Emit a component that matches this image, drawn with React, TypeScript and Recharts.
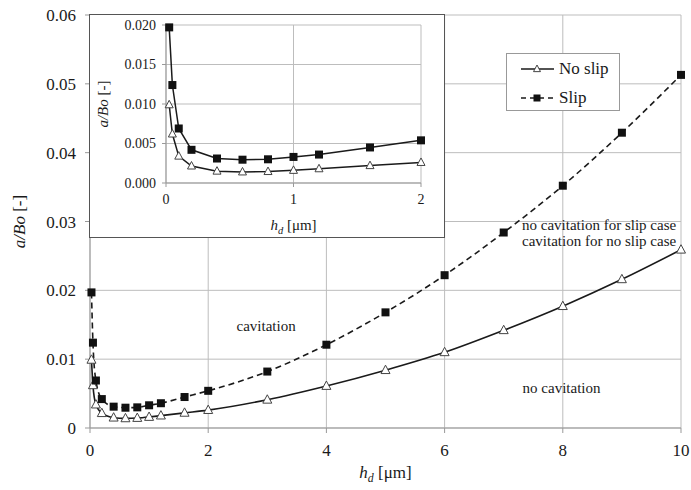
import { LineChart, Line, XAxis, YAxis, CartesianGrid, Legend, ReferenceDot } from "recharts";

// h_d [um] sample positions, and a/Bo values
const HD = [0.025, 0.05, 0.1, 0.2, 0.4, 0.6, 0.8, 1.0, 1.2, 1.6, 2, 3, 4, 5, 6, 7, 8, 9, 10];
const NO_SLIP = [0.0099, 0.0062, 0.0034, 0.00215, 0.0015, 0.0014, 0.00145, 0.0016, 0.0018, 0.0022, 0.0026, 0.0041, 0.0061, 0.0084, 0.011, 0.0142, 0.0177, 0.0216, 0.0259];
const SLIP = [0.0197, 0.0124, 0.0069, 0.0042, 0.0031, 0.00295, 0.003, 0.0033, 0.0036, 0.0045, 0.0054, 0.0082, 0.0121, 0.0168, 0.0222, 0.0284, 0.0352, 0.0429, 0.0513];

const X_TICKS = [0, 2, 4, 6, 8, 10];
const Y_TICKS = [0, 0.01, 0.02, 0.03, 0.04, 0.05, 0.06];
const INSET_X_TICKS = [0, 1, 2];
const INSET_Y_TICKS = [0, 0.005, 0.01, 0.015, 0.02];
const INSET_MAX_HD = 2;

const NOTES = [
  { text: "cavitation", x: 2.98, y: 0.0148, anchor: "middle" },
  { text: "no cavitation for slip case", x: 7.31, y: 0.0295, anchor: "start" },
  { text: "cavitation for no slip case", x: 7.31, y: 0.0271, anchor: "start" },
  { text: "no cavitation", x: 7.32, y: 0.0058, anchor: "start" },
];

const rows = HD.map((hd, i) => ({ hd, noSlip: NO_SLIP[i], slip: SLIP[i] }));
const insetRows = rows.filter((r) => r.hd <= INSET_MAX_HD);

const FONT = "'Times New Roman', Times, 'Liberation Serif', 'Nimbus Roman', FreeSerif, 'Noto Serif', 'DejaVu Serif', serif";
const INK = "#1a1a1a";
const GRID = "#bdbdbd";

function Triangle(props: any) {
  const { cx, cy, s = 4.5 } = props;
  if (cx == null || cy == null) return null;
  return (
    <path
      d={`M${cx},${cy - s - 0.5} L${cx + s},${cy + s * 0.75} L${cx - s},${cy + s * 0.75} Z`}
      fill="#fff"
      stroke="#444"
      strokeWidth={1}
    />
  );
}

function Square(props: any) {
  const { cx, cy, s = 4 } = props;
  if (cx == null || cy == null) return null;
  return <rect x={cx - s} y={cy - s} width={s * 2} height={s * 2} fill="#111" />;
}

function XTitle({ viewBox, dy, size }: any) {
  const x = viewBox.x + viewBox.width / 2;
  return (
    <text x={x} y={viewBox.y + dy} textAnchor="middle" style={{ fontFamily: FONT }} fontSize={size} fill={INK}>
      <tspan fontStyle="italic">h</tspan>
      <tspan fontStyle="italic" fontSize={size * 0.7} dy={4}>d</tspan>
      <tspan dy={-4}> [μm]</tspan>
    </text>
  );
}

function YTitle({ viewBox, dx, size }: any) {
  const x = viewBox.x + dx;
  const y = viewBox.y + viewBox.height / 2;
  return (
    <text x={x} y={y} transform={`rotate(-90 ${x} ${y})`} textAnchor="middle" style={{ fontFamily: FONT }} fontSize={size} fill={INK}>
      <tspan fontStyle="italic">a/Bo</tspan>
      <tspan> [-]</tspan>
    </text>
  );
}

function LegendBox() {
  const item = (dashed: boolean, label: string) => (
    <div style={{ display: "flex", alignItems: "center", height: 29 }}>
      <svg width={38} height={14} style={{ marginRight: 2 }}>
        <line x1={2} y1={7} x2={35} y2={7} stroke={INK} strokeWidth={1.3} strokeDasharray={dashed ? "5 4" : undefined} />
        {dashed ? <Square cx={18} cy={7} s={3.5} /> : <Triangle cx={18} cy={7} s={3.5} />}
      </svg>
      <span>{label}</span>
    </div>
  );
  return (
    <div
      style={{
        width: 114,
        height: 58,
        boxSizing: "border-box",
        border: "1px solid #999",
        background: "#fff",
        padding: "0 0 0 12px",
        fontFamily: FONT,
        fontSize: 17,
        color: INK,
        lineHeight: "17px",
      }}
    >
      {item(false, "No slip")}
      {item(true, "Slip")}
    </div>
  );
}

const tickStyle = { fontSize: 17, fill: INK, style: { fontFamily: FONT } };
const insetTick = { fontSize: 14, fill: INK, style: { fontFamily: FONT } };

export default function App() {
  return (
    <div style={{ position: "absolute", left: 0, top: 0, width: 691, height: 490, background: "#fff", fontFamily: FONT }}>
      <LineChart width={691} height={490} data={rows} margin={{ top: 15, right: 10, bottom: 0, left: 0 }}>
        <CartesianGrid stroke={GRID} strokeWidth={1} />
        <XAxis
          type="number"
          dataKey="hd"
          domain={[0, 10]}
          ticks={X_TICKS}
          height={62}
          stroke="#999"
          tickSize={5}
          tickMargin={11}
          tick={tickStyle}
          label={(p: any) => <XTitle viewBox={p.viewBox} dy={50} size={17} />}
        />
        <YAxis
          type="number"
          domain={[0, 0.06]}
          ticks={Y_TICKS}
          width={90}
          stroke="#999"
          tickSize={5}
          tickMargin={9}
          tick={tickStyle}
          tickFormatter={(v: number) => (v === 0 ? "0" : v.toFixed(2))}
          label={(p: any) => <YTitle viewBox={p.viewBox} dx={25} size={17} />}
        />
        <Line
          type="monotone"
          dataKey="noSlip"
          name="No slip"
          stroke={INK}
          strokeWidth={1.6}
          dot={(p: any) => <Triangle key={p.index} cx={p.cx} cy={p.cy} />}
          isAnimationActive={false}
        />
        <Line
          type="monotone"
          dataKey="slip"
          name="Slip"
          stroke={INK}
          strokeWidth={1.6}
          strokeDasharray="6 4"
          dot={(p: any) => <Square key={p.index} cx={p.cx} cy={p.cy} />}
          isAnimationActive={false}
        />
        {NOTES.map((n) => (
          <ReferenceDot
            key={n.text}
            x={n.x}
            y={n.y}
            r={1}
            shape={(p: any) => (
              <text x={p.cx} y={p.cy} dy={5} textAnchor={n.anchor} style={{ fontFamily: FONT }} fontSize={15} fill={INK}>
                {n.text}
              </text>
            )}
          />
        ))}
        <Legend
          layout="vertical"
          align="center"
          verticalAlign="middle"
          content={() => <LegendBox />}
          wrapperStyle={{ left: 506, top: 53, width: 114 }}
        />
      </LineChart>

      <div
        style={{
          position: "absolute",
          left: 90,
          top: 15,
          width: 354,
          height: 222,
          background: "#fff",
          outline: "1.5px solid #555",
        }}
      >
        <LineChart width={354} height={222} data={insetRows} margin={{ top: 10, right: 23, bottom: 0, left: 0 }}>
          <CartesianGrid stroke={GRID} strokeWidth={1} />
          <XAxis
            type="number"
            dataKey="hd"
            domain={[0, 2]}
            ticks={INSET_X_TICKS}
            height={54}
            stroke="#999"
            tickSize={4}
            tickMargin={7}
            tick={insetTick}
            label={(p: any) => <XTitle viewBox={p.viewBox} dy={47} size={15} />}
          />
          <YAxis
            type="number"
            domain={[0, 0.02]}
            ticks={INSET_Y_TICKS}
            width={76}
            stroke="#999"
            tickSize={4}
            tickMargin={6}
            tick={insetTick}
            tickFormatter={(v: number) => v.toFixed(3)}
            label={(p: any) => <YTitle viewBox={p.viewBox} dx={18} size={15} />}
          />
          <Line
            type="linear"
            dataKey="noSlip"
            stroke={INK}
            strokeWidth={1.5}
            dot={(p: any) => <Triangle key={p.index} cx={p.cx} cy={p.cy} s={4} />}
            isAnimationActive={false}
          />
          <Line
            type="linear"
            dataKey="slip"
            stroke={INK}
            strokeWidth={1.5}
            dot={(p: any) => <Square key={p.index} cx={p.cx} cy={p.cy} />}
            isAnimationActive={false}
          />
        </LineChart>
      </div>
    </div>
  );
}
